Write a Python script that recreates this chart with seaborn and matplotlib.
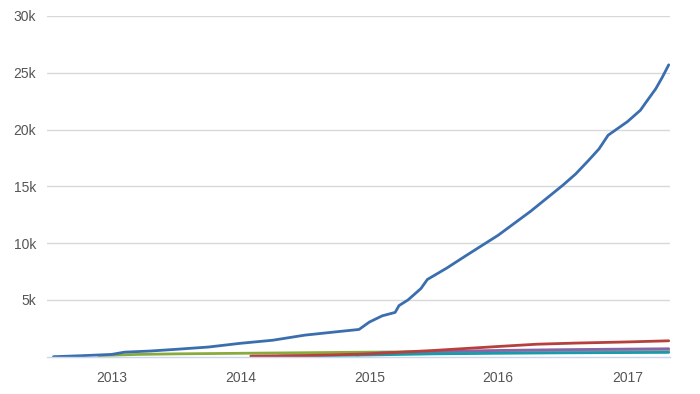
import matplotlib
matplotlib.use("Agg")
import matplotlib.pyplot as plt
import seaborn as sns
import pandas as pd
import numpy as np

# ---- data (decimal years, cumulative counts) ----
blue_x = [2012.55, 2012.75, 2013.0, 2013.1, 2013.3, 2013.5, 2013.75, 2014.0, 2014.25, 2014.5,
          2014.75, 2014.92, 2015.0, 2015.1, 2015.2, 2015.23, 2015.3, 2015.4, 2015.45, 2015.6,
          2015.75, 2016.0, 2016.25, 2016.5, 2016.6, 2016.7, 2016.78, 2016.85, 2017.0, 2017.1,
          2017.15, 2017.22, 2017.27, 2017.32]
blue_y = [0, 80, 200, 400, 500, 650, 850, 1180, 1450, 1900,
          2200, 2400, 3050, 3600, 3900, 4500, 5000, 6000, 6800, 7800,
          8900, 10700, 12800, 15100, 16100, 17300, 18300, 19500, 20700, 21700,
          22500, 23600, 24600, 25700]

red_x = [2014.08, 2014.5, 2015.0, 2015.5, 2016.0, 2016.3, 2016.6, 2017.0, 2017.32]
red_y = [50, 100, 250, 550, 900, 1100, 1200, 1300, 1400]

green_x = [2012.9, 2013.2, 2013.5, 2014.0, 2014.5, 2015.0, 2015.5, 2016.0, 2017.32]
green_y = [100, 200, 250, 300, 350, 400, 450, 480, 550]

purple_x = [2014.9, 2015.1, 2015.5, 2016.0, 2016.5, 2017.32]
purple_y = [150, 350, 450, 550, 620, 700]

gray_x = [2015.5, 2016.0, 2016.5, 2017.32]
gray_y = [300, 380, 440, 500]

teal_x = [2014.3, 2015.0, 2015.5, 2016.0, 2016.5, 2017.32]
teal_y = [50, 150, 250, 300, 340, 380]

series = {"blue": (blue_x, blue_y), "red": (red_x, red_y), "green": (green_x, green_y),
          "gray": (gray_x, gray_y), "purple": (purple_x, purple_y), "teal": (teal_x, teal_y)}
palette = {"blue": "#3a6eaf", "red": "#b6403c", "green": "#8aab3b", "gray": "#a0a0a0",
           "purple": "#8865a6", "teal": "#1a9bab"}

year_ticks = [2013, 2014, 2015, 2016, 2017]
y_ticks = [0, 5000, 10000, 15000, 20000, 25000, 30000]
y_labels = ["", "5k", "10k", "15k", "20k", "25k", "30k"]

def to_dt(v):
    y = int(np.floor(v))
    frac = v - y
    start = pd.Timestamp(year=y, month=1, day=1)
    end = pd.Timestamp(year=y + 1, month=1, day=1)
    return start + (end - start) * frac

rows = []
for name, (xs, ys) in series.items():
    for xv, yv in zip(xs, ys):
        rows.append({"date": to_dt(xv), "value": yv, "series": name})
df = pd.DataFrame(rows)

sns.set_theme(style="white")
plt.rcParams["font.family"] = ["Liberation Sans", "DejaVu Sans"]

fig = plt.figure(figsize=(7, 3.94), dpi=100)
ax = fig.add_axes([47 / 700, 1 - 356.7 / 394, 623 / 700, (356.7 - 16) / 394])

# gridlines
for t in y_ticks[1:]:
    ax.axhline(t, color="#d8d8d8", lw=1, zorder=0)

order = ["green", "gray", "purple", "teal", "red", "blue"]
sns.lineplot(data=df, x="date", y="value", hue="series", hue_order=order,
             palette=palette, linewidth=2, legend=False, ax=ax, estimator=None, sort=False)

ax.set_xlim(to_dt(2012.5), to_dt(2017.33))
ax.set_ylim(0, 30000)
ax.set_xticks([to_dt(y) for y in year_ticks])
ax.set_xticklabels([str(y) for y in year_ticks])
ax.set_yticks(y_ticks)
ax.set_yticklabels(y_labels)
ax.set_xlabel("")
ax.set_ylabel("")

for s in ["top", "right", "left"]:
    ax.spines[s].set_visible(False)
ax.spines["bottom"].set_color("#ccd6eb")
ax.spines["bottom"].set_linewidth(1)
ax.tick_params(axis="x", colors="#ccd6eb", length=6, width=1, direction="out", pad=4, labelsize=10, labelcolor="#555555")
ax.tick_params(axis="y", length=0, pad=8, labelsize=10, labelcolor="#555555")

fig.savefig("out.png", dpi=100)
